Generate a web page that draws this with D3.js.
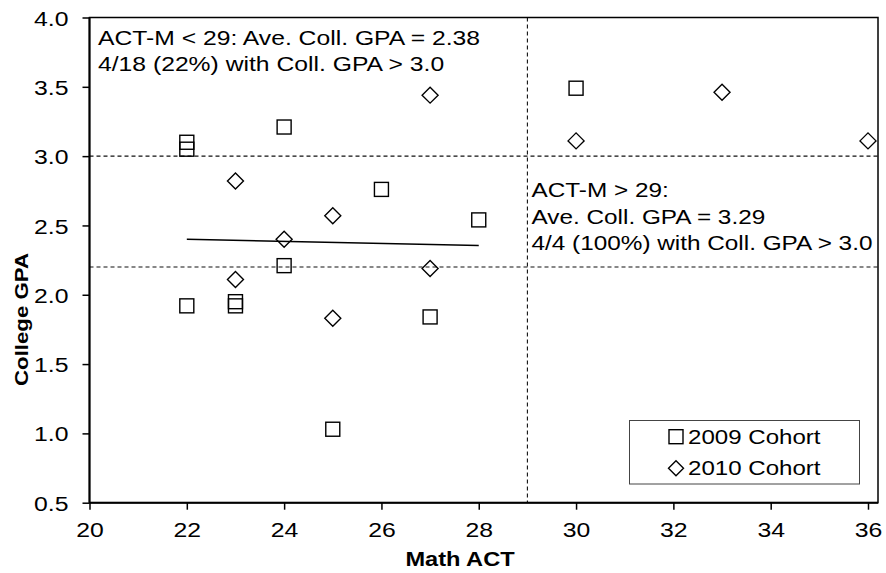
<!DOCTYPE html>
<html><head><meta charset="utf-8">
<script src="https://cdn.jsdelivr.net/npm/d3@7"></script>
<style>body{margin:0;background:#fff}svg{display:block}text{font-family:Arial,"Liberation Sans",sans-serif;fill:#000}</style>
</head><body><svg id="c" width="886" height="573"></svg>
<script>
// Data
const act2009 = [22, 22, 24, 26, 28, 24, 22, 23, 23, 25, 27, 30];
const gpa2009 = [3.10, 3.05, 3.21, 2.76, 2.54, 2.21, 1.92, 1.95, 1.92, 1.03, 1.84, 3.49];
const act2010 = [27, 23, 25, 24, 27, 23, 25, 30, 33, 36];
const gpa2010 = [3.44, 2.82, 2.57, 2.40, 2.19, 2.11, 1.83, 3.11, 3.46, 3.11];
const trendX = [22, 28];
const trendY = [2.40, 2.355];
const refGPA = [3.0, 2.2];
const refACT = [29];
const xTicks = [20, 22, 24, 26, 28, 30, 32, 34, 36];
const yTicks = [0.5, 1.0, 1.5, 2.0, 2.5, 3.0, 3.5, 4.0];
const seriesNames = ["2009 Cohort", "2010 Cohort"];
const note1 = ["ACT-M < 29: Ave. Coll. GPA = 2.38", "4/18 (22%) with Coll. GPA > 3.0"];
const note2 = ["ACT-M > 29:", "Ave. Coll. GPA = 3.29", "4/4 (100%) with Coll. GPA > 3.0"];

const SX = 1.235; // horizontal stretch of glyphs seen in the reference
const svg = d3.select("#c");
const L = 89.5, R = 878, T = 17.5, B = 502.7;
const x = d3.scaleLinear().domain([20, 36]).range([L, 868]);
const y = d3.scaleLinear().domain([0.5, 4.0]).range([B, T]);

function stretch(sel, sx, rot) {
  sel.each(function () {
    const t = d3.select(this);
    const px = +t.attr("x") || 0, py = +t.attr("y") || 0;
    t.attr("x", 0).attr("y", 0)
     .attr("transform", `translate(${px},${py})${rot ? " rotate(" + rot + ")" : ""} scale(${sx},1)`);
  });
}

// reference lines
svg.selectAll(".hr").data(refGPA).enter().append("line")
  .attr("x1", L).attr("x2", R).attr("y1", d => y(d)).attr("y2", d => y(d))
  .attr("stroke", "#111").attr("stroke-width", 1.1).attr("stroke-dasharray", "4,3");
svg.selectAll(".vr").data(refACT).enter().append("line")
  .attr("x1", d => x(d)).attr("x2", d => x(d)).attr("y1", T).attr("y2", B)
  .attr("stroke", "#111").attr("stroke-width", 1.1).attr("stroke-dasharray", "4,3");

// frame
svg.append("rect").attr("x", L).attr("y", T).attr("width", R - L).attr("height", B - T)
  .attr("fill", "none").attr("stroke", "#000").attr("stroke-width", 1.5);

// axes
const xAxis = svg.append("g").attr("transform", `translate(0,${B})`)
  .call(d3.axisBottom(x).tickValues(xTicks).tickSize(7).tickFormat(d3.format("d")));
xAxis.select(".domain").remove();
xAxis.selectAll("line").attr("stroke", "#000").attr("stroke-width", 1.5);
xAxis.selectAll("text").attr("font-size", 21).attr("dy", 0).attr("x", 0).attr("y", 34.5)
  .style("font-family", "Arial, 'Liberation Sans', sans-serif").attr("fill", "#000")
  .call(stretch, 1.18);

const yAxis = svg.append("g").attr("transform", `translate(${L},0)`)
  .call(d3.axisLeft(y).tickValues(yTicks).tickSize(7).tickFormat(d3.format(".1f")));
yAxis.select(".domain").remove();
yAxis.selectAll("line").attr("stroke", "#000").attr("stroke-width", 1.5);
yAxis.selectAll("text").attr("font-size", 21).attr("x", -21).attr("y", 0).attr("dy", "0.36em")
  .style("font-family", "Arial, 'Liberation Sans', sans-serif").attr("fill", "#000")
  .call(stretch, 1.18);
svg.append("line").attr("x1", L).attr("x2", L).attr("y1", T).attr("y2", B)
  .attr("stroke", "#000").attr("stroke-width", 2);
svg.append("line").attr("x1", L).attr("x2", R).attr("y1", B).attr("y2", B)
  .attr("stroke", "#000").attr("stroke-width", 2);

// trend line
svg.append("path").datum(trendX.map((d, i) => [d, trendY[i]]))
  .attr("d", d3.line().x(d => x(d[0])).y(d => y(d[1])))
  .attr("stroke", "#000").attr("stroke-width", 1.5).attr("fill", "none");

// markers
const sq = 14, dm = 8;
svg.selectAll(".s9").data(act2009.map((d, i) => [d, gpa2009[i]])).enter().append("rect")
  .attr("x", d => x(d[0]) - sq / 2).attr("y", d => y(d[1]) - sq / 2)
  .attr("width", sq).attr("height", sq)
  .attr("fill", "none").attr("stroke", "#000").attr("stroke-width", 1.4);
const diamond = (cx, cy, r) => `M${cx},${cy - r}L${cx + r},${cy}L${cx},${cy + r}L${cx - r},${cy}Z`;
svg.selectAll(".s10").data(act2010.map((d, i) => [d, gpa2010[i]])).enter().append("path")
  .attr("d", d => diamond(x(d[0]), y(d[1]), dm))
  .attr("fill", "none").attr("stroke", "#000").attr("stroke-width", 1.4);

// annotations
svg.selectAll(".n1").data(note1).enter().append("text")
  .attr("x", 98).attr("y", (d, i) => 45 + i * 26.4).attr("font-size", 20).text(d => d)
  .call(stretch, SX);
svg.selectAll(".n2").data(note2).enter().append("text")
  .attr("x", 531.5).attr("y", (d, i) => 197 + i * 26.5).attr("font-size", 20).text(d => d)
  .call(stretch, SX * 0.985);

// axis titles
svg.append("text").attr("x", 460).attr("y", 566).attr("text-anchor", "middle")
  .attr("font-size", 20).attr("font-weight", "bold").text("Math ACT")
  .call(stretch, 1.18);
svg.append("text").attr("x", 28).attr("y", 319.5).attr("text-anchor", "middle")
  .attr("font-size", 19).attr("font-weight", "bold").text("College GPA")
  .call(stretch, 1.17, -90);

// legend
const lg = svg.append("g");
lg.append("rect").attr("x", 629.5).attr("y", 420.5).attr("width", 230).attr("height", 63.5)
  .attr("fill", "#fff").attr("stroke", "#444").attr("stroke-width", 1);
const ly = [436.7, 468.3];
lg.append("rect").attr("x", 676 - 7).attr("y", ly[0] - 7).attr("width", 14).attr("height", 14)
  .attr("fill", "none").attr("stroke", "#000").attr("stroke-width", 1.4);
lg.append("path").attr("d", diamond(676, ly[1], 7.5))
  .attr("fill", "none").attr("stroke", "#000").attr("stroke-width", 1.4);
lg.selectAll(".lt").data(seriesNames).enter().append("text")
  .attr("x", 688).attr("y", (d, i) => ly[i]).attr("dy", "0.36em")
  .attr("font-size", 19.5).text(d => d)
  .call(stretch, SX);
</script></body></html>
